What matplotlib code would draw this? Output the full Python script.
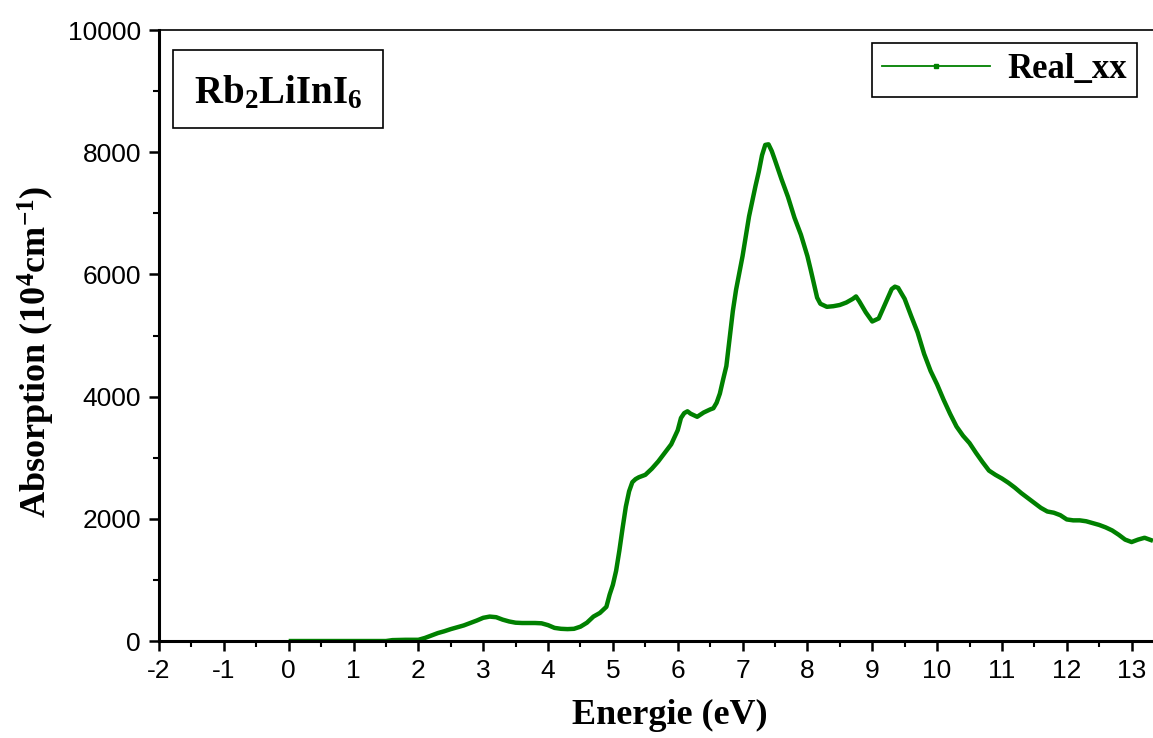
import matplotlib.pyplot as plt
from matplotlib.lines import Line2D
from matplotlib.patches import Rectangle

# values
energy = [0, 0.5, 1.0, 1.5, 1.6, 1.8, 2.0, 2.1, 2.2, 2.3, 2.4, 2.5, 2.6, 2.7, 2.8, 2.9,
          3.0, 3.1, 3.2, 3.3, 3.4, 3.5, 3.6, 3.7, 3.8, 3.9, 4.0, 4.1, 4.2, 4.3, 4.4, 4.5,
          4.6, 4.7, 4.8, 4.9, 4.95, 5.0, 5.05, 5.1, 5.15, 5.2, 5.25, 5.3, 5.35, 5.4, 5.5,
          5.6, 5.7, 5.8, 5.9, 6.0, 6.05, 6.1, 6.15, 6.2, 6.3, 6.4, 6.5, 6.55, 6.6, 6.65,
          6.7, 6.75, 6.8, 6.85, 6.9, 7.0, 7.1, 7.2, 7.25, 7.3, 7.35, 7.4, 7.45, 7.5, 7.6,
          7.7, 7.8, 7.9, 8.0, 8.05, 8.1, 8.15, 8.2, 8.3, 8.4, 8.5, 8.6, 8.7, 8.75, 8.8,
          8.9, 9.0, 9.1, 9.2, 9.3, 9.35, 9.4, 9.5, 9.6, 9.7, 9.8, 9.9, 10.0, 10.1, 10.2,
          10.3, 10.4, 10.5, 10.6, 10.7, 10.8, 10.9, 11.0, 11.1, 11.2, 11.3, 11.4, 11.5,
          11.6, 11.7, 11.8, 11.9, 12.0, 12.1, 12.2, 12.3, 12.4, 12.5, 12.6, 12.7, 12.8,
          12.9, 13.0, 13.1, 13.2, 13.33]
absorption = [0, 0, 0, 0, 15, 20, 20, 50, 90, 130, 160, 195, 225, 255, 295, 335,
              380, 400, 390, 350, 320, 300, 295, 295, 295, 290, 260, 215, 200, 195, 200, 235,
              300, 400, 460, 560, 760, 920, 1150, 1480, 1850, 2200, 2450, 2600, 2650, 2680, 2720,
              2820, 2940, 3080, 3220, 3450, 3650, 3730, 3760, 3720, 3670, 3740, 3790, 3810, 3900, 4050,
              4280, 4500, 4950, 5400, 5750, 6300, 6950, 7450, 7680, 7950, 8120, 8130, 8020, 7870, 7560,
              7270, 6930, 6650, 6300, 6080, 5850, 5620, 5520, 5470, 5480, 5500, 5540, 5600, 5640, 5560,
              5380, 5230, 5280, 5520, 5760, 5800, 5780, 5600, 5320, 5050, 4700, 4420, 4200, 3950, 3720,
              3510, 3360, 3240, 3080, 2930, 2790, 2720, 2660, 2590, 2510, 2420, 2340, 2260,
              2180, 2120, 2100, 2060, 1990, 1975, 1975, 1960, 1930, 1900, 1860, 1810, 1740,
              1660, 1620, 1660, 1690, 1640]

xticks = list(range(-2, 14))
yticks = [0, 2000, 4000, 6000, 8000, 10000]

plt.rcParams['font.family'] = 'Liberation Sans'
plt.rcParams['mathtext.fontset'] = 'custom'
plt.rcParams['mathtext.rm'] = 'Liberation Serif:bold'
plt.rcParams['mathtext.it'] = 'Liberation Serif:bold'
plt.rcParams['mathtext.bf'] = 'Liberation Serif:bold'

fig = plt.figure(figsize=(11.53, 7.38), dpi=100)
ax = fig.add_axes([0.1379, 0.1314, 0.8621, 0.8279])

green = '#008000'
ax.plot(energy, absorption, color=green, lw=3.2, solid_capstyle='butt')

ax.set_xlim(-2, 13.33)
ax.set_ylim(0, 10000)
ax.set_xticks(xticks)
ax.set_xticklabels([str(t) for t in xticks])
ax.set_xticks([t + 0.5 for t in xticks[:-1]], minor=True)
ax.set_yticks(yticks)
ax.set_yticklabels([str(t) for t in yticks])
ax.set_yticks([1000, 3000, 5000, 7000, 9000], minor=True)

ax.tick_params(which='major', direction='out', length=7, width=1.8, labelsize=19, pad=6)
ax.tick_params(which='minor', direction='out', length=4, width=1.5)

ax.spines['left'].set_linewidth(2.2)
ax.spines['bottom'].set_linewidth(2.2)
ax.spines['top'].set_linewidth(1.2)
ax.spines['right'].set_visible(False)

serif = {'family': 'Liberation Serif', 'weight': 'bold'}
ax.set_xlabel('Energie (eV)', fontdict=serif, fontsize=26)
ax.set_ylabel(r'Absorption (10$^{4}$cm$^{-1}$)', fontdict=serif, fontsize=26)
ax.xaxis.set_label_coords(0.514, -0.095)
ax.yaxis.set_label_coords(-0.103, 0.473)

# compound name in a box
ax.add_patch(Rectangle((0.0141, 0.8396), 0.2113, 0.1277, transform=ax.transAxes,
                       fill=False, edgecolor='black', lw=1.2))
ax.text(0.1197, 0.8805, r'Rb$_{2}$LiInI$_{6}$', transform=ax.transAxes,
        ha='center', va='baseline', fontdict=serif, fontsize=28)

handle = Line2D([], [], color=green, lw=1.3, marker='s', markersize=3)
leg = ax.legend([handle], ['Real_xx'], loc='upper right', bbox_to_anchor=(0.984, 0.979),
                borderaxespad=0, fancybox=False, framealpha=1, edgecolor='black',
                prop={'family': 'Liberation Serif', 'weight': 'bold', 'size': 25},
                handlelength=3.1, borderpad=0.3, handletextpad=0.5)
leg.get_frame().set_linewidth(1.2)

fig.savefig('out.png', dpi=100)
